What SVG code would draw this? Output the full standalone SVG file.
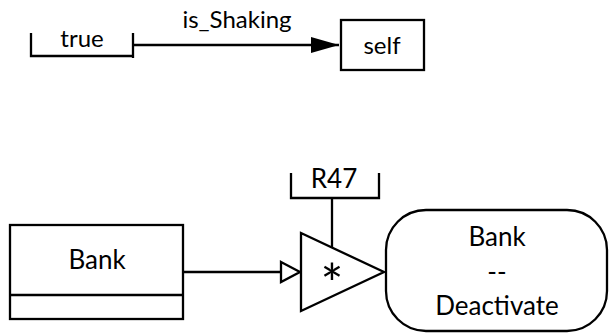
<svg xmlns="http://www.w3.org/2000/svg" width="609" height="333" viewBox="0 0 609 333">
<style>
.s{fill:none;stroke:#000;stroke-width:2.3}
.b{fill:#fff;stroke:#000;stroke-width:2.3}
text{font-family:Lato,"Open Sans","DejaVu Sans",sans-serif;fill:#000;text-anchor:middle}
.t1{font-size:24px}
.t2{font-size:26px}
.ast{font-size:54px}
</style>
<defs>
<marker id="fa" markerUnits="userSpaceOnUse" markerWidth="30" markerHeight="18" refX="28" refY="8" orient="auto">
<path d="M0,0 L28,8 L0,16 Z" fill="#000"/>
</marker>
</defs>
<rect width="609" height="333" fill="#fff"/>
<g id="connectors">
<line class="s" x1="133" y1="45" x2="339" y2="45" marker-end="url(#fa)"/>
<text class="t1" x="237" y="28">is_Shaking</text>
<line class="s" x1="183" y1="272" x2="281" y2="272"/>
<path class="b" d="M281,262 L300,272 L281,282 Z"/>
<line class="s" x1="332" y1="198" x2="332" y2="248"/>
</g>
<g id="true">
<path class="s" d="M31,33 V56 H133 M133,33 V58"/>
<text class="t1" x="82" y="47">true</text>
</g>
<g id="self">
<rect class="b" x="341" y="20" width="83" height="50"/>
<text class="t1" x="382" y="54">self</text>
</g>
<g id="bank_class">
<rect class="b" x="10" y="225" width="173" height="94"/>
<line class="s" x1="10" y1="295" x2="183" y2="295"/>
<text class="t2" x="97" y="269">Bank</text>
</g>
<g id="r47">
<path class="s" d="M291,173 V198 H379 V173"/>
<text class="t2" x="334" y="188">R47</text>
</g>
<g id="op">
<path class="b" d="M301,233 L384,272 L301,311 Z"/>
<text class="ast" x="332" y="303">*</text>
</g>
<g id="bank_deactivate">
<rect class="b" x="386" y="210" width="221" height="121" rx="40" ry="40"/>
<text class="t2" x="497" y="246">Bank</text>
<text class="t2" x="497" y="281">--</text>
<text class="t2" x="497" y="315">Deactivate</text>
</g>
</svg>
